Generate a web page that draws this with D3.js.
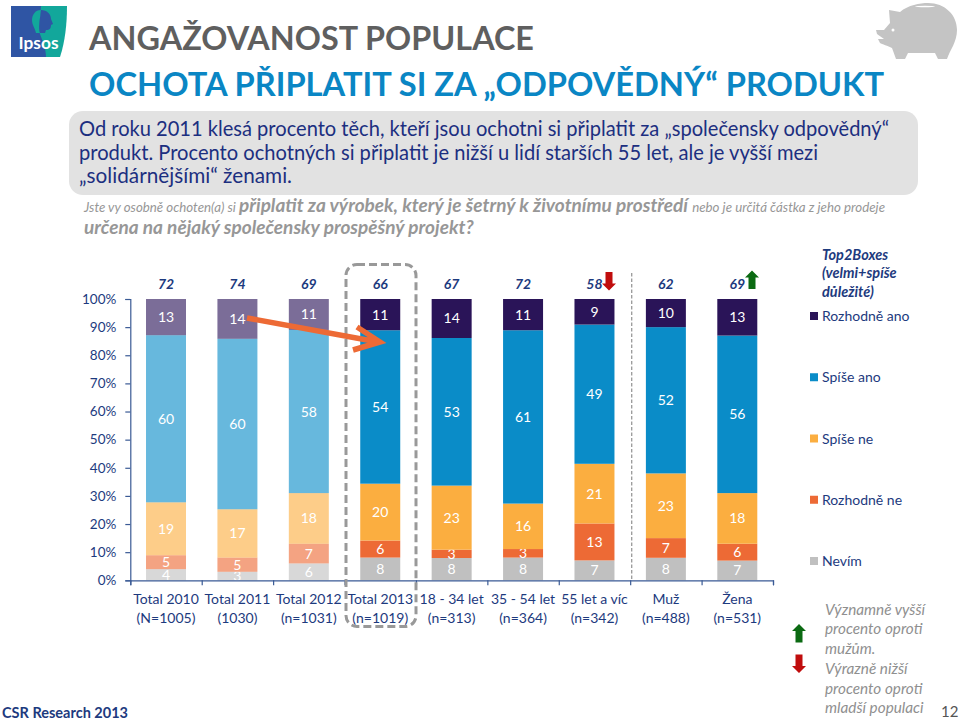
<!DOCTYPE html>
<html><head><meta charset="utf-8">
<script src="https://cdn.jsdelivr.net/npm/d3@7/dist/d3.min.js"></script>
<style>html,body{margin:0;padding:0;background:#fff}svg{display:block;font-family:Lato,sans-serif}</style>
</head><body><svg id="c" width="960" height="722"></svg>
<script>
const categories=["Total 2010","Total 2011","Total 2012","Total 2013","18 - 34 let","35 - 54 let","55 let a víc","Muž","Žena"];
const sampleLabels=["(N=1005)","(1030)","(n=1031)","(n=1019)","(n=313)","(n=364)","(n=342)","(n=488)","(n=531)"];
const top2=[72,74,69,66,67,72,58,62,69];
const seriesNames=["Rozhodně ano","Spíše ano","Spíše ne","Rozhodně ne","Nevím"];
const rozhodneAno=[13,14,11,11,14,11,9,10,13];
const spiseAno=[60,60,58,54,53,61,49,52,56];
const spiseNe=[19,17,18,20,23,16,21,23,18];
const rozhodneNe=[5,5,7,6,3,3,13,7,6];
const nevim=[4,3,6,8,8,8,7,8,7];
const fadedCategories=["Total 2010","Total 2011","Total 2012"];
const seriesColors=["#2a1458","#0a8cc8","#fbae40","#ed6a35","#c0c0c0"];
const percentTicks=[0,10,20,30,40,50,60,70,80,90,100];

const NAVY="#1d3a7e";
const svg=d3.select("#c");
const seriesValues=[rozhodneAno,spiseAno,spiseNe,rozhodneNe,nevim];

// header: logo
const logo=svg.append("g");
logo.append("path").attr("d","M11 6H67C67 24 65 42 60 57H11Z").attr("fill","#12a79b");
logo.append("path").attr("d","M11 6H41C40 20 38 28 40 34C42 40 46 48 46 57H11Z").attr("fill","#2f55a4");
logo.append("path").attr("d","M41 10C35 10 32 15 32 20C32 25 35 28 36 33H40C38 28 40 20 41 10Z").attr("fill","#12a79b");
logo.append("path").attr("d","M41 10C47 10 51 14 51 19L53 24L51 25C51 28 50 30 46 30L45 33H40C38 28 40 20 41 10Z").attr("fill","#2f55a4");
logo.append("text").attr("x",38.5).attr("y",49).attr("text-anchor","middle").attr("font-size",17).attr("font-weight",700).attr("fill","#fff").attr("textLength",40).attr("lengthAdjust","spacingAndGlyphs").text("Ipsos");

// header: piggy bank
const pig=svg.append("g");
pig.append("path").attr("fill","#c4c4c4").attr("d","M876 30L884 30L890 23L889 10L900 12C908 5 920 3 928 3C945 3 957 15 957 30C957 42 950 50 947 59L938 59L935 53L908 53L905 59L896 59L892 48C888 46 882 44 880 43L878 39L884 39L877 34Z");
pig.append("ellipse").attr("cx",925).attr("cy",6.5).attr("rx",10).attr("ry",0.8).attr("fill","#fff");
pig.append("circle").attr("cx",893).attr("cy",30).attr("r",1.5).attr("fill","#fff");

svg.append("text").attr("x",89).attr("y",50).attr("font-size",32.5).attr("font-weight",700).attr("fill","#5f5f5f").attr("textLength",445).attr("lengthAdjust","spacingAndGlyphs").text("ANGAŽOVANOST POPULACE");
svg.append("text").attr("x",89).attr("y",96).attr("font-size",32.5).attr("font-weight",700).attr("fill","#0a86c4").attr("textLength",795).attr("lengthAdjust","spacingAndGlyphs").text("OCHOTA PŘIPLATIT SI ZA „ODPOVĚDNÝ“ PRODUKT");

svg.append("rect").attr("x",69).attr("y",111).attr("width",849).attr("height",84).attr("rx",14).attr("fill","#e2e2e2");
[["Od roku 2011 klesá procento těch, kteří jsou ochotni si připlatit za „společensky odpovědný“",136,810],
 ["produkt. Procento ochotných si připlatit je nižší u lidí starších 55 let, ale je vyšší mezi",160,739],
 ["„solidárnějšími“ ženami.",183,213]].forEach(([t,y,w])=>{
  svg.append("text").attr("x",79).attr("y",y).attr("font-size",21).attr("fill","#1c2f80").attr("textLength",w).attr("lengthAdjust","spacingAndGlyphs").text(t);
});

const q1=svg.append("text").attr("y",212).attr("font-style","italic").attr("fill","#979797");
q1.append("tspan").attr("x",84).attr("font-size",13.3).text("Jste vy osobně ochoten(a) si ");
q1.append("tspan").attr("font-size",19).attr("font-weight",700).text("připlatit za výrobek, který je šetrný k životnímu prostředí ");
q1.append("tspan").attr("font-size",13.3).text("nebo je určitá částka z jeho prodeje");
svg.append("text").attr("x",84).attr("y",234).attr("font-style","italic").attr("font-weight",700).attr("font-size",19).attr("fill","#979797").text("určena na nějaký společensky prospěšný projekt?");

// chart
const x0=130.3,x1=773,yTop=299,yBot=580.3;
const xb=d3.scaleBand().domain(categories).range([x0,x1]).paddingInner(0.44).paddingOuter(0.22);
const xi=d3.scaleLinear().domain([0,categories.length]).range([x0,x1]);
const y=d3.scaleLinear().domain([0,1]).range([yBot,yTop]);
const rows=categories.map((c,i)=>{const r={cat:c};seriesNames.forEach((s,k)=>r[s]=seriesValues[k][i]);return r;});
const stack=d3.stack().keys(seriesNames.slice().reverse()).offset(d3.stackOffsetExpand)(rows);
const color=d3.scaleOrdinal().domain(seriesNames).range(seriesColors);

const layers=svg.append("g").selectAll("g").data(stack).join("g");
layers.selectAll("rect").data(d=>d.map(p=>({p,key:d.key}))).join("rect")
  .attr("x",d=>xb(d.p.data.cat)).attr("width",xb.bandwidth())
  .attr("y",d=>y(d.p[1])).attr("height",d=>y(d.p[0])-y(d.p[1]))
  .attr("fill",d=>color(d.key)).attr("fill-opacity",d=>fadedCategories.includes(d.p.data.cat)?0.62:1);
layers.selectAll("text").data(d=>d.map(p=>({p,key:d.key}))).join("text")
  .attr("x",d=>xb(d.p.data.cat)+xb.bandwidth()/2)
  .attr("y",d=>(y(d.p[1])+y(d.p[0]))/2+5)
  .attr("text-anchor","middle").attr("font-size",14).attr("fill","#fff")
  .text(d=>d.p.data[d.key]);

const axisY=svg.append("g").attr("transform",`translate(${x0},0)`)
  .call(d3.axisLeft(d3.scaleLinear().domain([0,100]).range([yBot,yTop])).tickValues(percentTicks).tickFormat(d=>d+"%").tickSize(5).tickPadding(9));
const axisX=svg.append("g").attr("transform",`translate(0,${yBot})`)
  .call(d3.axisBottom(xi).tickValues(d3.range(categories.length+1)).tickFormat("").tickSize(5));
[axisY,axisX].forEach(a=>{a.selectAll("path,line").attr("stroke","#3a5a95").attr("stroke-width",1.2);});
axisY.selectAll("text").attr("font-size",13.5).attr("font-family","Lato,sans-serif").attr("fill",NAVY);

const cx=c=>xb(c)+xb.bandwidth()/2;
svg.append("g").selectAll("text").data(categories).join("text").attr("x",cx).attr("y",604).attr("text-anchor","middle").attr("font-size",14).attr("fill",NAVY).text(d=>d);
svg.append("g").selectAll("text").data(categories).join("text").attr("x",cx).attr("y",623).attr("text-anchor","middle").attr("font-size",14).attr("fill",NAVY).text((d,i)=>sampleLabels[i]);
svg.append("g").selectAll("text").data(categories).join("text").attr("x",cx).attr("y",289).attr("text-anchor","middle").attr("font-size",14).attr("font-weight",700).attr("font-style","italic").attr("fill",NAVY).text((d,i)=>top2[i]);

// annotations
svg.append("rect").attr("x",346).attr("y",264.5).attr("width",70).attr("height",362).attr("rx",11).attr("fill","none").attr("stroke","#999").attr("stroke-width",3).attr("stroke-dasharray","8 4");
svg.append("line").attr("x1",631.7).attr("x2",631.7).attr("y1",273).attr("y2",580).attr("stroke","#999").attr("stroke-width",1.3).attr("stroke-dasharray","3.5 2");
svg.append("path").attr("d","M247 318L378 342M357 327L380 342L353 350").attr("fill","none").attr("stroke","#ed6a35").attr("stroke-width",5.5);

const upArrow=(px,py,h)=>`M${px-3.5} ${py+h}V${py+7}H${px-7}L${px} ${py}L${px+7} ${py+7}H${px+3.5}V${py+h}Z`;
const downArrow=(px,py,h)=>`M${px-3.5} ${py}V${py+h-7}H${px-7}L${px} ${py+h}L${px+7} ${py+h-7}H${px+3.5}V${py}Z`;
svg.append("path").attr("d",downArrow(609,272,18.5)).attr("fill","#c00d0d");
svg.append("path").attr("d",upArrow(752,270.5,18.5)).attr("fill","#0b6a12");
svg.append("path").attr("d",upArrow(799,624,18.5)).attr("fill","#0b6a12");
svg.append("path").attr("d",downArrow(799,654.5,18.5)).attr("fill","#c00d0d");

// legend
[["Top2Boxes",260],["(velmi+spíše",278],["důležité)",297]].forEach(([t,yy])=>{
  svg.append("text").attr("x",822).attr("y",yy).attr("font-size",14.5).attr("font-weight",700).attr("font-style","italic").attr("fill",NAVY).text(t);
});
const legendY=d3.scalePoint().domain(seriesNames).range([316,561]);
const lg=svg.append("g").selectAll("g").data(seriesNames).join("g").attr("transform",d=>`translate(810,${legendY(d)})`);
lg.append("rect").attr("y",-4).attr("width",8).attr("height",8).attr("fill",d=>color(d));
lg.append("text").attr("x",12).attr("y",5).attr("font-size",14).attr("fill",NAVY).text(d=>d);

[["Významně vyšší",615],["procento oproti",634],["mužům.",654],["Výrazně nižší",674],["procento oproti",694],["mladší populaci",713]].forEach(([t,yy])=>{
  svg.append("text").attr("x",825).attr("y",yy).attr("font-size",15.3).attr("font-style","italic").attr("fill","#8f8f8f").text(t);
});
svg.append("text").attr("x",941).attr("y",717).attr("font-size",15).attr("fill","#555").text("12");
svg.append("text").attr("x",2).attr("y",718).attr("font-size",14.5).attr("font-weight",700).attr("fill",NAVY).text("CSR Research 2013");
</script></body></html>
